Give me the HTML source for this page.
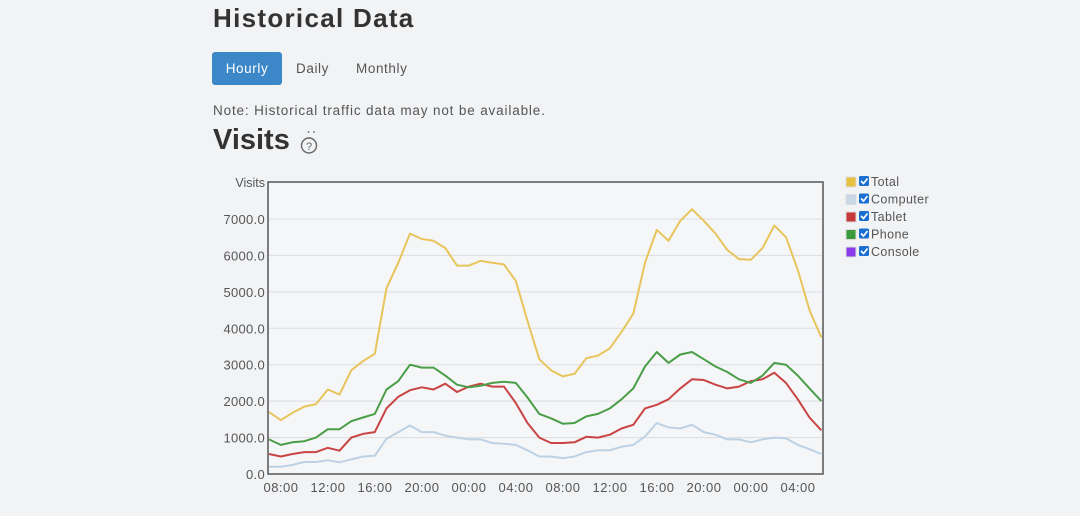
<!DOCTYPE html>
<html><head><meta charset="utf-8"><style>
body{margin:0;width:1080px;height:516px;background:#f2f3f5;font-family:"Liberation Sans",sans-serif;overflow:hidden;position:relative;color:#333}
h1{position:absolute;left:213px;top:3px;margin:0;font-size:26px;font-weight:bold;color:#333;letter-spacing:1.3px}
.btn{position:absolute;top:52px;height:33px;line-height:33px;font-size:13.5px;color:#555;letter-spacing:0.6px}
.note{position:absolute;left:213px;top:103px;font-size:13.5px;color:#555;letter-spacing:0.85px}
h2{position:absolute;left:213px;top:124px;margin:0;font-size:29px;font-weight:bold;color:#333}
</style></head><body>
<h1>Historical Data</h1>
<div class="btn" style="left:212px;width:70px;background:#3b87c8;color:#fff;border-radius:3px;text-align:center">Hourly</div>
<div class="btn" style="left:296px">Daily</div>
<div class="btn" style="left:356px">Monthly</div>
<div class="note">Note: Historical traffic data may not be available.</div>
<h2>Visits</h2>
<svg style="position:absolute;left:298px;top:128px" width="24" height="28"><circle cx="10.5" cy="4" r="0.9" fill="#666"/><circle cx="16" cy="4" r="0.9" fill="#666"/><circle cx="11" cy="17.5" r="7.5" fill="none" stroke="#666" stroke-width="1.4"/><text x="11" y="22" text-anchor="middle" font-size="11" fill="#666" font-family="Liberation Sans">?</text></svg>
<svg id="c" width="1080" height="516" style="position:absolute;left:0;top:0"></svg>
<script>
var T=[1700,1480,1680,1850,1920,2320,2180,2850,3100,3300,5100,5800,6600,6450,6400,6200,5720,5720,5850,5800,5750,5300,4200,3150,2850,2680,2750,3180,3250,3450,3900,4400,5800,6700,6400,6950,7270,6950,6600,6150,5900,5880,6200,6820,6500,5600,4500,3750];
var P=[950,800,870,900,1000,1230,1230,1450,1550,1650,2320,2550,3000,2920,2920,2700,2450,2380,2420,2500,2530,2500,2100,1650,1530,1380,1400,1580,1650,1800,2050,2350,2950,3350,3050,3280,3350,3150,2950,2800,2600,2500,2700,3050,3000,2700,2350,2000];
var B=[550,480,550,600,600,720,640,1000,1100,1150,1800,2120,2300,2380,2320,2480,2250,2400,2480,2400,2400,1950,1400,1000,850,850,870,1020,1000,1080,1250,1350,1800,1900,2050,2350,2600,2580,2450,2350,2400,2550,2600,2780,2500,2050,1550,1200];
var C=[200,200,250,330,330,380,320,400,480,500,970,1150,1330,1150,1150,1050,1000,950,950,850,830,800,650,480,480,430,480,600,650,650,750,800,1030,1400,1280,1250,1350,1150,1080,950,950,870,950,1000,980,800,680,550];
var s='<rect x="268" y="182" width="555" height="292" fill="#f5f6f8"/>';
for(var k=1;k<=7;k++){var y=474-k*36.43;s+='<line x1="268" x2="823" y1="'+y+'" y2="'+y+'" stroke="#dcdde0"/>';}
for(var k=0;k<=7;k++){var y=474-k*36.43;s+='<text x="265" y="'+(y+5)+'" text-anchor="end" font-size="13" fill="#555" letter-spacing="0.3">'+(k?k*1000:0)+'.0</text>';}
s+='<text x="265" y="187" text-anchor="end" font-size="12.5" fill="#555">Visits</text>';
var lb=['08:00','12:00','16:00','20:00','00:00','04:00','08:00','12:00','16:00','20:00','00:00','04:00'];
for(var i=0;i<12;i++)s+='<text x="'+(281+i*47)+'" y="492" text-anchor="middle" font-size="13" fill="#555" letter-spacing="0.5">'+lb[i]+'</text>';
function pl(a,c){var p=a.map(function(v,i){return (269+i*11.75).toFixed(1)+','+(474-v*0.03643).toFixed(1)}).join(' ');return '<polyline points="'+p+'" fill="none" stroke="'+c+'" stroke-width="2" stroke-linejoin="round"/>';}
s+=pl(C,'#bcd2e4')+pl(B,'#c94444')+pl(P,'#4a9e48')+pl(T,'#e8c55c');
s+='<rect x="268" y="182" width="555" height="292" fill="none" stroke="#555" stroke-width="1.5"/>';
var L=[['Total','#e8c040'],['Computer','#c8d8e8'],['Tablet','#c83838'],['Phone','#3c9a3c'],['Console','#8a3ae8']];
for(var i=0;i<5;i++){var y=176+i*17.5;s+='<rect x="846" y="'+(y+1)+'" width="10" height="10" fill="'+L[i][1]+'" stroke="#ddd"/><rect x="859" y="'+y+'" width="10" height="10" rx="1.5" fill="#1a6fd0"/><path d="M861 '+(y+5)+' l2.5 2.5 l4 -5" stroke="#fff" stroke-width="1.6" fill="none"/><text x="871" y="'+(y+10)+'" font-size="12.5" fill="#555" letter-spacing="0.4">'+L[i][0]+'</text>';}
document.getElementById('c').innerHTML=s;
</script>
</body></html>
